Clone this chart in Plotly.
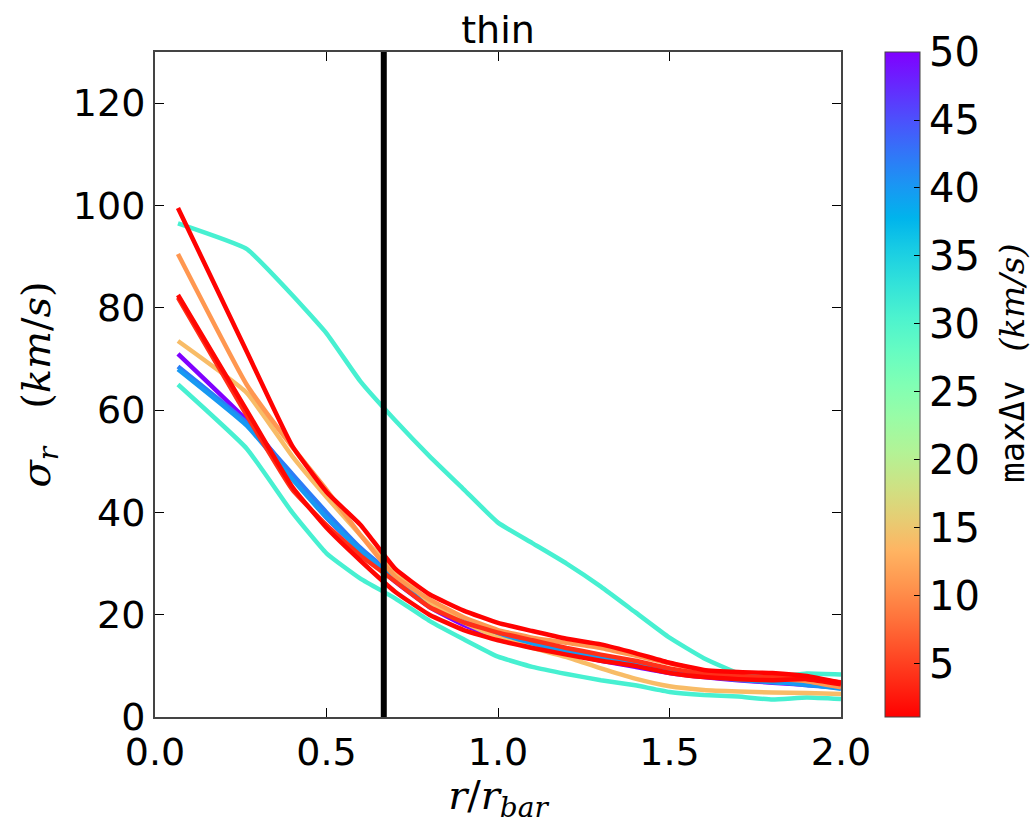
import math
import plotly.graph_objects as go

# ---------------- data ----------------
r_vals = [0.067, 0.267, 0.4, 0.5, 0.6, 0.7, 0.8, 0.9, 1.0, 1.1, 1.2, 1.3, 1.4, 1.5, 1.6, 1.7, 1.8, 1.9, 2.0]

dv_teal_upper = 31
sig_teal_upper = [96.5, 91.5, 82.5, 75, 65.5, 58, 51, 44.5, 38, 34, 30, 25.5, 20.5, 15.5, 11.5, 8.6, 7.8, 8.5, 8.3]
dv_teal_lower = 31
sig_teal_lower = [65, 52.5, 40, 32, 27, 23.2, 18.8, 15.2, 11.8, 9.8, 8.4, 7.2, 6.2, 4.9, 4.3, 4.0, 3.4, 3.8, 3.5]
dv_purple = 50
sig_purple = [71, 58, 47, 39, 32.5, 26.5, 21.5, 18, 15.5, 14, 12.5, 11, 9.8, 8.6, 7.8, 7.2, 6.7, 6.3, 5.9]
dv_blue1 = 42
sig_blue1 = [68.5, 57.5, 47.5, 40, 33, 27.5, 22.5, 19, 16.5, 14.5, 13, 11.5, 10.5, 9.2, 8.2, 7.5, 7.0, 6.2, 5.7]
dv_blue2 = 40
sig_blue2 = [68, 57, 46.5, 39, 32.5, 27, 22, 18.5, 16, 14.3, 12.8, 11.5, 10.2, 9.0, 8.0, 7.3, 6.8, 6.4, 5.5]
dv_lorange = 14
sig_lorange = [73.5, 63.4, 51, 43, 35.5, 28.5, 22.5, 18.5, 15.5, 13.5, 11.7, 9.5, 7.5, 6.0, 5.3, 5.0, 4.8, 4.7, 4.5]
dv_orange = 11
sig_orange = [90.5, 65, 52.8, 44.4, 35.5, 27.5, 23, 19.5, 17, 15.5, 14.5, 13.5, 12, 10.5, 9, 8, 7.5, 7, 5.8]
dv_redorange = 4
sig_redorange = [82, 59, 44.5, 37.5, 31.5, 26.5, 21.5, 18.5, 16.5, 15, 13.5, 12.2, 11, 9.5, 8.5, 8, 7.8, 7.6, 6.8]
dv_red_mid = 1.5
sig_red_mid = [82.5, 60, 45, 37, 30.5, 24.5, 20, 17, 15, 13.5, 12.2, 11, 10, 8.6, 7.8, 7.4, 7.2, 7.4, 6.4]
dv_red_top = 1.2
sig_red_top = [99.5, 71.5, 53, 44, 37.5, 29, 24, 20.8, 18.4, 16.8, 15.3, 14.2, 12.5, 10.6, 9.2, 8.8, 8.6, 8.0, 6.7]

series = [
    (dv_teal_upper, sig_teal_upper),
    (dv_teal_lower, sig_teal_lower),
    (dv_purple, sig_purple),
    (dv_blue1, sig_blue1),
    (dv_blue2, sig_blue2),
    (dv_lorange, sig_lorange),
    (dv_orange, sig_orange),
    (dv_redorange, sig_redorange),
    (dv_red_mid, sig_red_mid),
    (dv_red_top, sig_red_top),
]

r_bar_line = 0.667
cmin, cmax = 1.1, 50
cbar_ticks = [5, 10, 15, 20, 25, 30, 35, 40, 45, 50]
x_ticks = [0.0, 0.5, 1.0, 1.5, 2.0]
y_ticks = [0, 20, 40, 60, 80, 100, 120]


# matplotlib "rainbow" reversed (low value -> red, high -> purple)
def rainbow_rgb(x):
    r = min(1.0, abs(2 * x - 0.5))
    g = max(0.0, math.sin(math.pi * x))
    b = max(0.0, math.cos(math.pi * x / 2))
    return "rgb(%d,%d,%d)" % (round(r * 255), round(g * 255), round(b * 255))


def color_for(v):
    t = (v - cmin) / (cmax - cmin)
    t = max(0.0, min(1.0, t))
    return rainbow_rgb(1 - t)


colorscale = [[i / 20, rainbow_rgb(1 - i / 20)] for i in range(21)]

fig = go.Figure()
for dv, sig in series:
    fig.add_trace(go.Scatter(x=r_vals, y=sig, mode="lines",
                             line=dict(color=color_for(dv), width=4.5, shape="spline", smoothing=0.4),
                             showlegend=False, hoverinfo="skip"))

# vertical line
fig.add_trace(go.Scatter(x=[r_bar_line, r_bar_line], y=[0, 130], mode="lines",
                         line=dict(color="black", width=6), showlegend=False))

# colorbar holder
fig.add_trace(go.Scatter(
    x=[None], y=[None], mode="markers", showlegend=False,
    marker=dict(color=[cmin], cmin=cmin, cmax=cmax, colorscale=colorscale, showscale=True,
                colorbar=dict(
                    x=1.064, xanchor="left", xref="paper", xpad=0, ypad=0,
                    y=0.5, yanchor="middle", len=1.0, lenmode="fraction",
                    thickness=35, thicknessmode="pixels",
                    outlinecolor="#444", outlinewidth=1,
                    ticks="inside", ticklen=6, tickcolor="black",
                    tickvals=cbar_ticks, ticktext=[str(t) for t in cbar_ticks],
                    tickfont=dict(family="DejaVu Sans", size=40, color="black"),
                ))))

# colorbar label (two parts: typewriter "maxΔv" and italic units)
fig.add_annotation(text="max\u0394v", xref="paper", yref="paper", x=1.249, y=0.4286,
                   xanchor="center", yanchor="middle", textangle=-90, showarrow=False,
                   font=dict(family="DejaVu Sans Mono", size=34, color="black"))
fig.add_annotation(text="<i>(km/s)</i>", xref="paper", yref="paper", x=1.249, y=0.630,
                   xanchor="center", yanchor="middle", textangle=-90, showarrow=False,
                   font=dict(family="DejaVu Serif", size=34, color="black"))

fig.update_layout(
    width=1033, height=824,
    margin=dict(l=155, r=192, t=52, b=107, autoexpand=False),
    plot_bgcolor="white", paper_bgcolor="white",
    title=dict(text="thin", x=(155 + 343) / 1033, xanchor="center",
               y=1 - 30 / 824, yanchor="middle",
               font=dict(family="DejaVu Sans", size=38, color="black")),
    xaxis=dict(range=[0, 2.0], tickvals=x_ticks, ticktext=["%.1f" % t for t in x_ticks],
               ticks="inside", ticklen=9, tickcolor="black", showgrid=False, zeroline=False,
               showline=True, linecolor="#444", linewidth=2, mirror="ticks",
               tickfont=dict(family="DejaVu Sans", size=38, color="black"),
               title=dict(text="<i>r</i>/<i>r<sub>bar</sub></i>", standoff=0,
                          font=dict(family="DejaVu Serif", size=40, color="black"))),
    yaxis=dict(range=[0, 130], tickvals=y_ticks, ticktext=[str(t) for t in y_ticks],
               ticks="inside", ticklen=9, tickcolor="black", showgrid=False, zeroline=False,
               showline=True, linecolor="#444", linewidth=2, mirror="ticks",
               tickfont=dict(family="DejaVu Sans", size=38, color="black"),
               title=dict(text="<i>\u03c3<sub>r</sub></i>&nbsp;&nbsp;&nbsp;(<i>km</i>/<i>s</i>)", standoff=10,
                          font=dict(family="DejaVu Serif", size=40, color="black"))),
)

fig.write_html("out.html")
